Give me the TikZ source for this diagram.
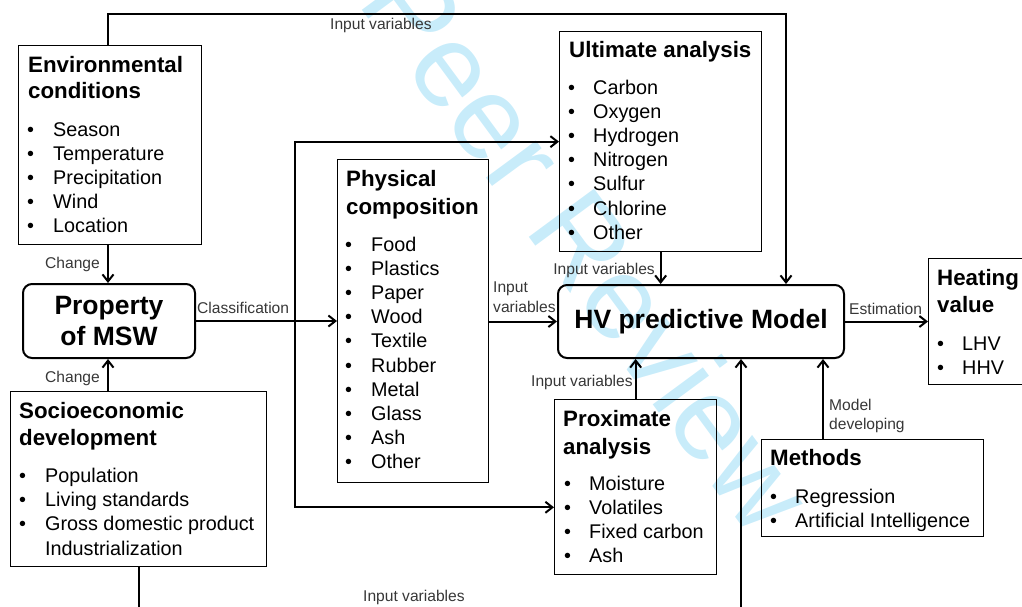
\documentclass[tikz,border=0pt]{standalone}
\usepackage{fontspec}
\setmainfont{Liberation Sans}
\usetikzlibrary{arrows.meta,calc}
\definecolor{wm}{RGB}{200,236,250}
\definecolor{lbl}{RGB}{55,55,55}
\newcommand\fsz[1]{\fontsize{#1}{#1}\selectfont}
\newcommand\mylist[5]{%
  \foreach \t [count=\i from 0] in {#5} {%
    \node[itm] (#1-b\i) at (#2,{#4+24.2*\i}) {\textbullet};
    \node[itm] (#1-t\i) at (#3,{#4+24.2*\i}) {\t};
  }}
\begin{document}
\begin{tikzpicture}[x=1pt,y=-1pt,
  box/.style={draw, line width=1.3pt, inner sep=0pt, anchor=north west},
  rbox/.style={draw, line width=2pt, rounded corners=9pt, inner sep=0pt, align=center, font=\bfseries\fontsize{26.5}{32}\selectfont},
  ttl/.style={anchor=base west, inner sep=0pt, font=\bfseries\fsz{22.3}},
  itm/.style={anchor=base west, inner sep=0pt, font=\fsz{19.8}},
  lab/.style={anchor=base west, inner sep=0pt, font=\fsz{15.6}, text=lbl, align=left},
  conn/.style={line width=2pt},
  arr/.style={line width=2pt, -{Straight Barb[length=7pt,width=11pt]}}]
\useasboundingbox (0,0) rectangle (1022,606);
\clip (0,0) rectangle (1022,606);
% watermark
\node[font=\fsz{118}, text=wm, rotate=-53.6, anchor=base, inner sep=0pt] (wmk) at (555,272) {Peer Review};

% boxes
\node[box, minimum width=183, minimum height=199] (env) at (18,45) {};
\node[box, minimum width=256, minimum height=175] (soc) at (10,391) {};
\node[box, minimum width=151, minimum height=323] (phy) at (337,159) {};
\node[box, minimum width=202, minimum height=220] (ult) at (559,31) {};
\node[box, minimum width=162, minimum height=175] (pro) at (554,399) {};
\node[box, minimum width=222, minimum height=97] (met) at (761,439) {};
\node[box, minimum width=110, minimum height=126] (hea) at (928,258) {};
\node[rbox, minimum width=172, minimum height=74] (prop) at (109,321) {Property\\[-1pt]of MSW};
\node[rbox, minimum width=286, minimum height=73] (hv) at (701,321.5) {HV predictive Model};

% box texts
\node[ttl] (env-h1) at (28,72) {Environmental};
\node[ttl] (env-h2) at (28,98) {conditions};
\mylist{env}{27}{53}{136}{Season,Temperature,Precipitation,Wind,Location}

\node[ttl] (soc-h1) at (19,418) {Socioeconomic};
\node[ttl] (soc-h2) at (19,445) {development};
\mylist{soc}{19}{45}{482}{Population,Living standards,Gross domestic product}
\node[itm] (soc-t3) at (45,555) {Industrialization};

\node[ttl] (phy-h1) at (346,186) {Physical};
\node[ttl] (phy-h2) at (346,214) {composition};
\mylist{phy}{345}{371}{251}{Food,Plastics,Paper,Wood,Textile,Rubber,Metal,Glass,Ash,Other}

\node[ttl] (ult-h1) at (569,57) {Ultimate analysis};
\mylist{ult}{568}{593}{94}{Carbon,Oxygen,Hydrogen,Nitrogen,Sulfur,Chlorine,Other}

\node[ttl] (pro-h1) at (563,426) {Proximate};
\node[ttl] (pro-h2) at (563,454) {analysis};
\mylist{pro}{564}{589}{490}{Moisture,Volatiles,Fixed carbon,Ash}

\node[ttl] (met-h1) at (770,465) {Methods};
\mylist{met}{770}{795}{503}{Regression,Artificial Intelligence}

\node[ttl] (hea-h1) at (937,285) {Heating};
\node[ttl] (hea-h2) at (937,312) {value};
\mylist{hea}{937}{962}{350}{LHV,HHV}

% connectors
\coordinate (topr) at (786,14);
\coordinate (chg) at ($(env.south west)+(90,0)$);
\draw[arr] ($(env.north west)+(90,0)$) |- (topr) -- (topr |- hv.north);
\draw[arr] (chg) -- (chg |- prop.north);
\draw[arr] (chg |- soc.north) -- (chg |- prop.south);
\draw[arr] (prop.east) -- (phy.west |- prop.east);
\coordinate (br) at (295,321);
\draw[arr] (br) |- (ult.west);
\draw[arr] (br) |- ($(pro.south west)+(0,-68)$);
\draw[arr] (phy.east |- hv.west) -- (hv.west);
\draw[arr] (ult.south) -- (ult.south |- hv.north);
\draw[arr] (pro.north) -- (pro.north |- hv.south);
\coordinate (mtop) at ($(met.north west)+(62,0)$);
\draw[arr] (mtop) -- (mtop |- hv.south);
\coordinate (bot) at (741,640);
\draw[arr] (soc.south) |- (bot) -- (bot |- hv.south);
\draw[arr] (hv.east) -- (hea.west |- hv.east);

% labels
\node[lab] (l-top) at (330,29) {Input variables};
\node[lab] (l-ch1) at (45,268) {Change};
\node[lab] (l-ch2) at (45,382) {Change};
\node[lab] (l-cls) at (197,313) {Classification};
\node[lab, anchor=base east] (l-ult) at (655,274) {Input variables};
\node[lab] (l-phy1) at (493,292) {Input};
\node[lab] (l-phy2) at (493,312) {variables};
\node[lab] (l-pro) at (531,386) {Input variables};
\node[lab] (l-met1) at (829,410) {Model};
\node[lab] (l-met2) at (829,429) {developing};
\node[lab] (l-est) at (849,314) {Estimation};
\node[lab] (l-bot) at (363,601) {Input variables};
\end{tikzpicture}
\end{document}
